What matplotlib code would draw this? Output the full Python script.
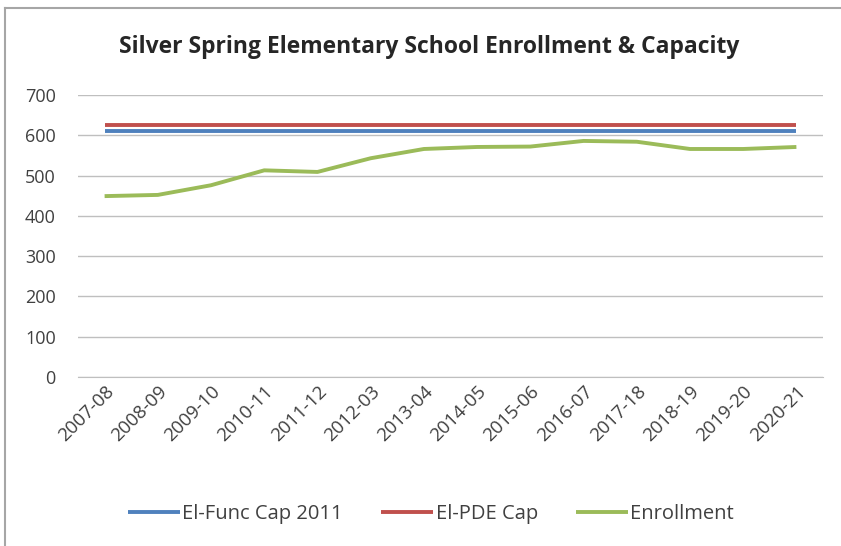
import matplotlib
matplotlib.use("Agg")
import matplotlib.pyplot as plt
from matplotlib.lines import Line2D

years = ["2007-08", "2008-09", "2009-10", "2010-11", "2011-12", "2012-03", "2013-04",
         "2014-05", "2015-06", "2016-07", "2017-18", "2018-19", "2019-20", "2020-21"]
func_cap = [610] * 14
pde_cap = [625] * 14
enrollment = [449, 452, 476, 513, 509, 543, 566, 571, 572, 586, 584, 566, 566, 571]

plt.rcParams['font.family'] = ['Open Sans', 'DejaVu Sans']

fig = plt.figure(figsize=(8.41, 5.46), dpi=100)
ax = fig.add_axes([78/841, 1-377/546, (823-78)/841, (377-95)/546])

x = list(range(len(years)))
ax.plot(x, func_cap, color="#4F81BD", lw=2.8, label="El-Func Cap 2011", solid_capstyle="butt")
ax.plot(x, pde_cap, color="#C0504D", lw=2.8, label="El-PDE Cap", solid_capstyle="butt")
ax.plot(x, enrollment, color="#9BBB59", lw=2.8, label="Enrollment", solid_capstyle="butt")

ax.set_xlim(-0.5, len(years) - 0.5)
ax.set_ylim(0, 700)
ax.set_yticks(range(0, 701, 100))
ax.yaxis.grid(True, color="#BFBFBF", lw=1.0)
ax.set_axisbelow(True)
for s in ["top", "right", "left"]:
    ax.spines[s].set_visible(False)
ax.spines["bottom"].set_color("#BFBFBF")
ax.tick_params(axis="y", length=0, pad=16, labelsize=13, labelcolor="#404040")
ax.tick_params(axis="x", length=0, pad=4, labelsize=13.5, labelcolor="#404040")
ax.set_xticks(x)
ax.set_xticklabels(years, rotation=45, ha="right", rotation_mode="anchor")

fig.text(429/841, 1-47/546, "Silver Spring Elementary School Enrollment & Capacity",
         ha="center", va="center", fontsize=16.5, fontweight="bold", color="#262626")

ax.legend(loc="center", bbox_to_anchor=(431/841, 1-514/546), bbox_transform=fig.transFigure,
          ncol=3, frameon=False, fontsize=14.5, handlelength=2.6, handletextpad=0.1,
          columnspacing=1.9, labelcolor="#404040")

# chart border (left and top edges)
fig.add_artist(Line2D([5/841, 5/841], [0, 1-8/546], transform=fig.transFigure, color="#A6A6A6", lw=1.5))
fig.add_artist(Line2D([5/841, 1], [1-8/546, 1-8/546], transform=fig.transFigure, color="#A6A6A6", lw=1.5))

fig.savefig("out.png", dpi=100)
